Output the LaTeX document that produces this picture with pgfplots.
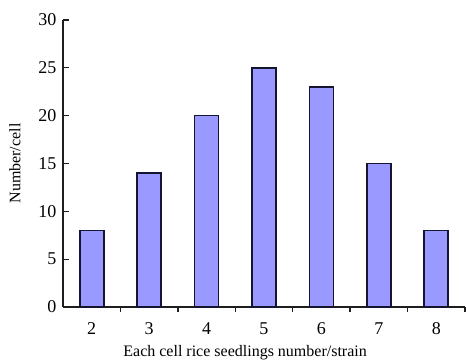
\documentclass[border=0pt]{standalone}
\usepackage{pgfplots}
\pgfplotsset{compat=1.18}
\usepackage{fontspec}
\setmainfont{Liberation Serif}
\definecolor{barfill}{HTML}{9999FF}
\definecolor{baredge}{HTML}{151530}
\definecolor{axcol}{HTML}{1E1E1E}
\begin{document}
\fontsize{16}{19}\selectfont
\begin{tikzpicture}
\useasboundingbox (-63pt,-54pt) rectangle (403pt,307pt);
\begin{axis}[
  at={(0pt,0pt)}, anchor=south west,
  scale only axis, width=402pt, height=287pt,
  axis lines*=left,
  axis line style={axcol, line width=1.5pt},
  xmin=1.5, xmax=8.5, ymin=0, ymax=30,
  ytick={0,5,...,30},
  xtick={2,...,8},
  minor xtick={2.5,3.5,...,8.5},
  major x tick style={draw=none},
  tick align=inside,
  major tick length=6pt, minor tick length=5pt,
  every tick/.style={axcol, line width=1.3pt},
  tick label style={font=\fontsize{18}{21}\selectfont},
  yticklabel style={xshift=-1pt},
  xticklabel style={yshift=-4pt},
  /pgf/number format/assume math mode=true,
  xlabel={Each cell rice seedlings number/strain},
  ylabel={Number/cell},
  label style={font=\fontsize{16}{19}\selectfont},
  xlabel style={at={(axis description cs:0.453,-0.16)}, anchor=center},
  ylabel style={at={(axis description cs:-0.1194,0.5)}, anchor=center},
  ybar, bar width=24pt,
  clip=false,
]
\addplot[fill=barfill, draw=baredge, line width=1.6pt] coordinates {
  (2,8) (3,14) (4,20) (5,25) (6,23) (7,15) (8,8)
};
\end{axis}
\end{tikzpicture}
\end{document}
